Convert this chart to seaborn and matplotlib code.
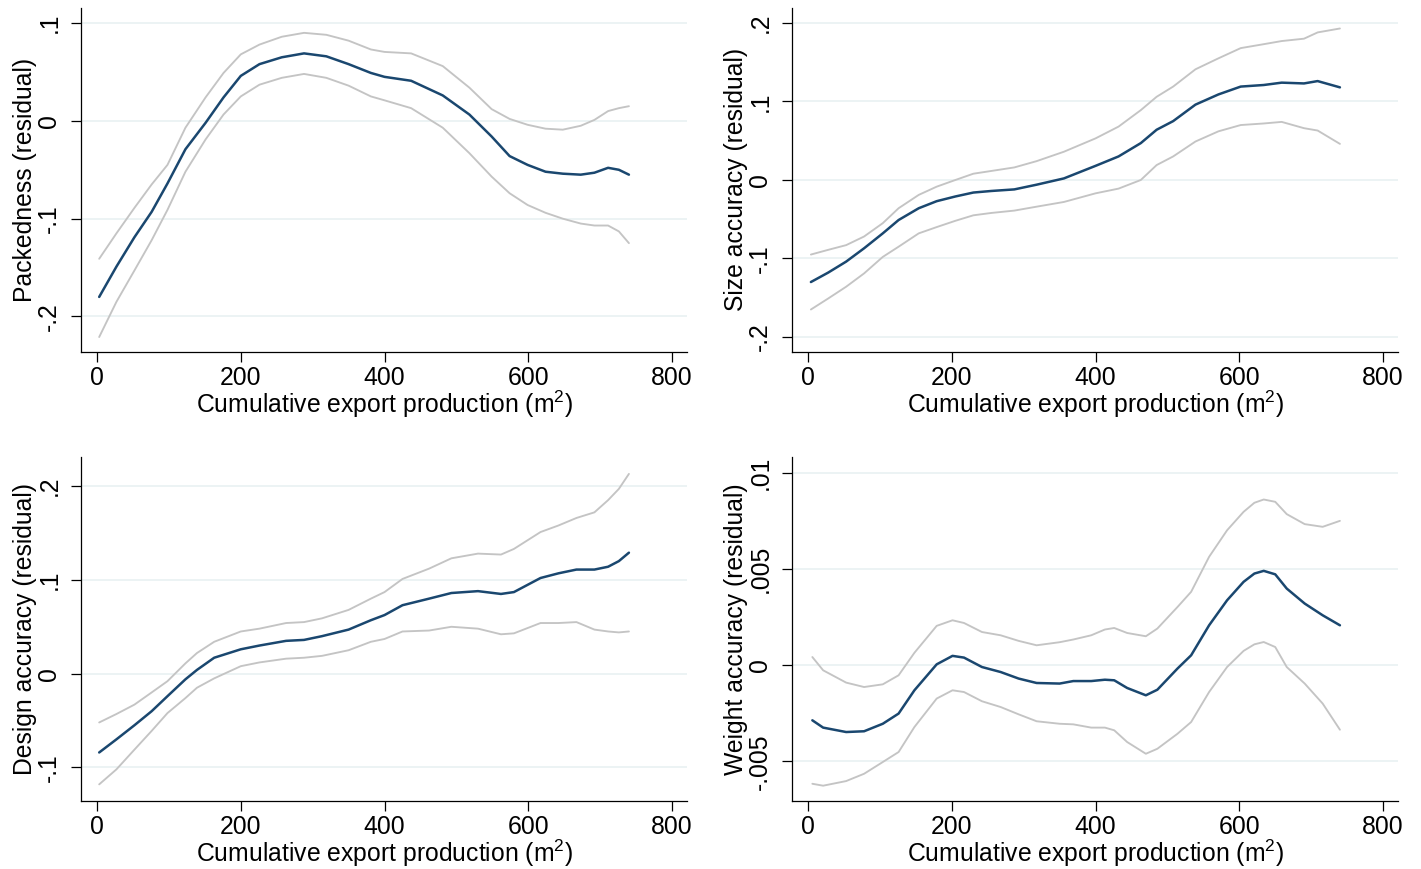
import matplotlib
matplotlib.use("Agg")
import matplotlib.pyplot as plt
import seaborn as sns
import pandas as pd

# ---------------------------------------------------------------------------
# Local polynomial fits of residual quality measures on cumulative export
# production, with 95% confidence bounds.
# ---------------------------------------------------------------------------

x_label = r"Cumulative export production (m$\mathregular{^2}$)"

# Packedness
pack_x = [3, 27, 52, 76, 98, 123, 151, 176, 200, 226,
          257, 288, 319, 350, 381, 400, 437, 481, 518, 549,
          574, 599, 624, 648, 673, 692, 711, 726, 740]
pack_fit = [-0.180, -0.149, -0.119, -0.093, -0.064, -0.029, -0.002, 0.024, 0.046, 0.058,
            0.065, 0.069, 0.066, 0.058, 0.049, 0.045, 0.041, 0.026, 0.0065, -0.016,
            -0.036, -0.045, -0.052, -0.054, -0.055, -0.053, -0.048, -0.050, -0.055]
pack_hi = [-0.141, -0.115, -0.089, -0.065, -0.045, -0.007, 0.024, 0.049, 0.068, 0.078,
           0.086, 0.090, 0.088, 0.082, 0.073, 0.0705, 0.069, 0.056, 0.034, 0.012,
           0.002, -0.004, -0.008, -0.009, -0.005, 0.001, 0.010, 0.013, 0.015]
pack_lo = [-0.221, -0.185, -0.153, -0.122, -0.091, -0.052, -0.019, 0.0065, 0.025, 0.037,
           0.044, 0.048, 0.044, 0.036, 0.025, 0.021, 0.013, -0.007, -0.033, -0.057,
           -0.074, -0.086, -0.094, -0.100, -0.105, -0.107, -0.107, -0.113, -0.125]
pack_ticks = [-0.2, -0.1, 0.0, 0.1]
pack_ticklabels = ["-.2", "-.1", "0", ".1"]

# Size accuracy
size_x = [4, 28, 53, 78, 104, 126, 154, 179, 205, 230,
          255, 287, 318, 356, 400, 432, 463, 485, 508, 539,
          571, 602, 634, 659, 690, 709, 740]
size_fit = [-0.130, -0.118, -0.104, -0.087, -0.068, -0.051, -0.036, -0.027, -0.021, -0.016,
            -0.014, -0.012, -0.006, 0.002, 0.018, 0.030, 0.047, 0.064, 0.075, 0.096,
            0.109, 0.119, 0.121, 0.124, 0.123, 0.126, 0.118]
size_hi = [-0.095, -0.089, -0.083, -0.072, -0.055, -0.036, -0.019, -0.0085, 0.0, 0.008,
           0.0115, 0.016, 0.024, 0.036, 0.053, 0.068, 0.089, 0.106, 0.119, 0.141,
           0.155, 0.168, 0.173, 0.177, 0.180, 0.188, 0.193]
size_lo = [-0.165, -0.151, -0.136, -0.119, -0.098, -0.085, -0.068, -0.060, -0.052, -0.045,
           -0.042, -0.039, -0.034, -0.028, -0.017, -0.011, 0.0, 0.019, 0.030, 0.049,
           0.062, 0.070, 0.072, 0.074, 0.066, 0.063, 0.046]
size_ticks = [-0.2, -0.1, 0.0, 0.1, 0.2]
size_ticklabels = ["-.2", "-.1", "0", ".1", ".2"]

# Design accuracy
design_x = [3, 27, 52, 76, 98, 123, 139, 163, 200, 226,
            263, 288, 313, 350, 381, 400, 425, 462, 493, 530,
            562, 580, 617, 642, 667, 692, 711, 726, 740]
design_fit = [-0.084, -0.070, -0.055, -0.040, -0.024, -0.006, 0.004, 0.017, 0.026, 0.030,
              0.035, 0.036, 0.040, 0.047, 0.057, 0.0625, 0.073, 0.080, 0.086, 0.088,
              0.085, 0.087, 0.102, 0.107, 0.111, 0.111, 0.114, 0.120, 0.129]
design_hi = [-0.052, -0.043, -0.033, -0.020, -0.008, 0.011, 0.022, 0.034, 0.045, 0.048,
             0.054, 0.055, 0.059, 0.068, 0.080, 0.087, 0.101, 0.112, 0.123, 0.128,
             0.127, 0.133, 0.151, 0.158, 0.166, 0.172, 0.185, 0.197, 0.213]
design_lo = [-0.118, -0.102, -0.081, -0.061, -0.042, -0.026, -0.015, -0.005, 0.008, 0.012,
             0.016, 0.017, 0.019, 0.025, 0.034, 0.037, 0.045, 0.046, 0.050, 0.048,
             0.042, 0.043, 0.054, 0.054, 0.055, 0.047, 0.045, 0.044, 0.045]
design_ticks = [-0.1, 0.0, 0.1, 0.2]
design_ticklabels = ["-.1", "0", ".1", ".2"]

# Weight accuracy
weight_x = [6, 21, 53, 78, 104, 126, 148, 179, 201, 217,
            242, 268, 293, 318, 350, 369, 394, 413, 426, 444,
            470, 486, 514, 533, 558, 583, 606, 621, 634, 650,
            666, 691, 716, 740]
weight_fit = [-0.00286, -0.00324, -0.00347, -0.00343, -0.00304, -0.00251, -0.00130, 0.00005, 0.00049, 0.00040,
              -0.00009, -0.00035, -0.00069, -0.00092, -0.00095, -0.00082, -0.00082, -0.00075, -0.00078, -0.00118,
              -0.00156, -0.00127, -0.00017, 0.00052, 0.00208, 0.00338, 0.00434, 0.00477, 0.00491, 0.00473,
              0.00399, 0.00321, 0.00260, 0.00208]
weight_hi = [0.00043, -0.00026, -0.00090, -0.00113, -0.00099, -0.00052, 0.00065, 0.00205, 0.00234, 0.00220,
             0.00173, 0.00156, 0.00127, 0.00104, 0.00120, 0.00134, 0.00156, 0.00186, 0.00194, 0.00168,
             0.00151, 0.00191, 0.00303, 0.00382, 0.00564, 0.00702, 0.00798, 0.00845, 0.00862, 0.00850,
             0.00786, 0.00734, 0.00720, 0.00751]
weight_lo = [-0.00616, -0.00626, -0.00602, -0.00564, -0.00503, -0.00451, -0.00321, -0.00173, -0.00130, -0.00139,
             -0.00187, -0.00217, -0.00255, -0.00291, -0.00304, -0.00307, -0.00324, -0.00324, -0.00338, -0.00399,
             -0.00460, -0.00434, -0.00356, -0.00295, -0.00139, -0.00009, 0.00075, 0.00109, 0.00121, 0.00095,
             -0.00009, -0.00095, -0.00199, -0.00335]
weight_ticks = [-0.005, 0.0, 0.005, 0.01]
weight_ticklabels = ["-.005", "0", ".005", ".01"]

x_ticks = [0, 200, 400, 600, 800]

panels = [
    ("Packedness (residual)", pack_x, pack_fit, pack_lo, pack_hi,
     pack_ticks, pack_ticklabels, (-0.2358, 0.1154)),
    ("Size accuracy (residual)", size_x, size_fit, size_lo, size_hi,
     size_ticks, size_ticklabels, (-0.2185, 0.2191)),
    ("Design accuracy (residual)", design_x, design_fit, design_lo, design_hi,
     design_ticks, design_ticklabels, (-0.1352, 0.2310)),
    ("Weight accuracy (residual)", weight_x, weight_fit, weight_lo, weight_hi,
     weight_ticks, weight_ticklabels, (-0.00703, 0.01083)),
]

# ---------------------------------------------------------------------------
sns.set_theme(style="white")
plt.rcParams["font.family"] = ["Liberation Sans", "DejaVu Sans"]
plt.rcParams["mathtext.fontset"] = "custom"
plt.rcParams["mathtext.rm"] = "Liberation Sans"
plt.rcParams["mathtext.it"] = "Liberation Sans:italic"

FIT_COLOR = "#1a476f"
CI_COLOR = "#c4c4c4"
GRID_COLOR = "#eaf2f3"
FS = 17.8

W, H = 1421, 869
fig = plt.figure(figsize=(W / 100, H / 100), dpi=100)
fig.patch.set_facecolor("white")

# axes boxes in pixels: (left, top, right, bottom)
boxes = [(81, 8, 687, 351.5), (792, 8, 1398, 351.5),
         (81, 457, 687, 800.5), (792, 457, 1398, 800.5)]

for (ylab, xs, fit, lo, hi, yt, ytl, ylim), (l, t, r, b) in zip(panels, boxes):
    ax = fig.add_axes([l / W, 1 - b / H, (r - l) / W, (b - t) / H])
    ax.set_facecolor("white")

    df = pd.DataFrame({"x": xs, "fit": fit, "lo": lo, "hi": hi})
    sns.lineplot(data=df, x="x", y="hi", ax=ax, color=CI_COLOR, lw=1.35)
    sns.lineplot(data=df, x="x", y="lo", ax=ax, color=CI_COLOR, lw=1.35)
    sns.lineplot(data=df, x="x", y="fit", ax=ax, color=FIT_COLOR, lw=1.8)

    ax.set_xlim(-22.3, 820.8)
    ax.set_ylim(*ylim)
    ax.set_xticks(x_ticks)
    ax.set_xticklabels([str(v) for v in x_ticks])
    ax.set_yticks(yt)
    ax.set_yticklabels(ytl, rotation=90, va="center")

    ax.yaxis.grid(True, color=GRID_COLOR, lw=1.3)
    ax.xaxis.grid(False)
    ax.set_axisbelow(True)

    for side in ("top", "right"):
        ax.spines[side].set_visible(False)
    for side in ("left", "bottom"):
        ax.spines[side].set_color("black")
        ax.spines[side].set_linewidth(0.9)

    ax.tick_params(axis="both", which="major", direction="out", length=7.2,
                   width=0.9, color="black", labelsize=FS, labelcolor="black")
    ax.tick_params(axis="x", pad=3, bottom=True)
    ax.tick_params(axis="y", pad=7, left=True)

    ax.set_xlabel(x_label, fontsize=FS, labelpad=-0.5, color="black")
    ax.set_ylabel(ylab, fontsize=FS, color="black")
    ax.yaxis.set_label_coords(-0.072, 0.5)

fig.savefig("out.png", dpi=100, facecolor="white")
